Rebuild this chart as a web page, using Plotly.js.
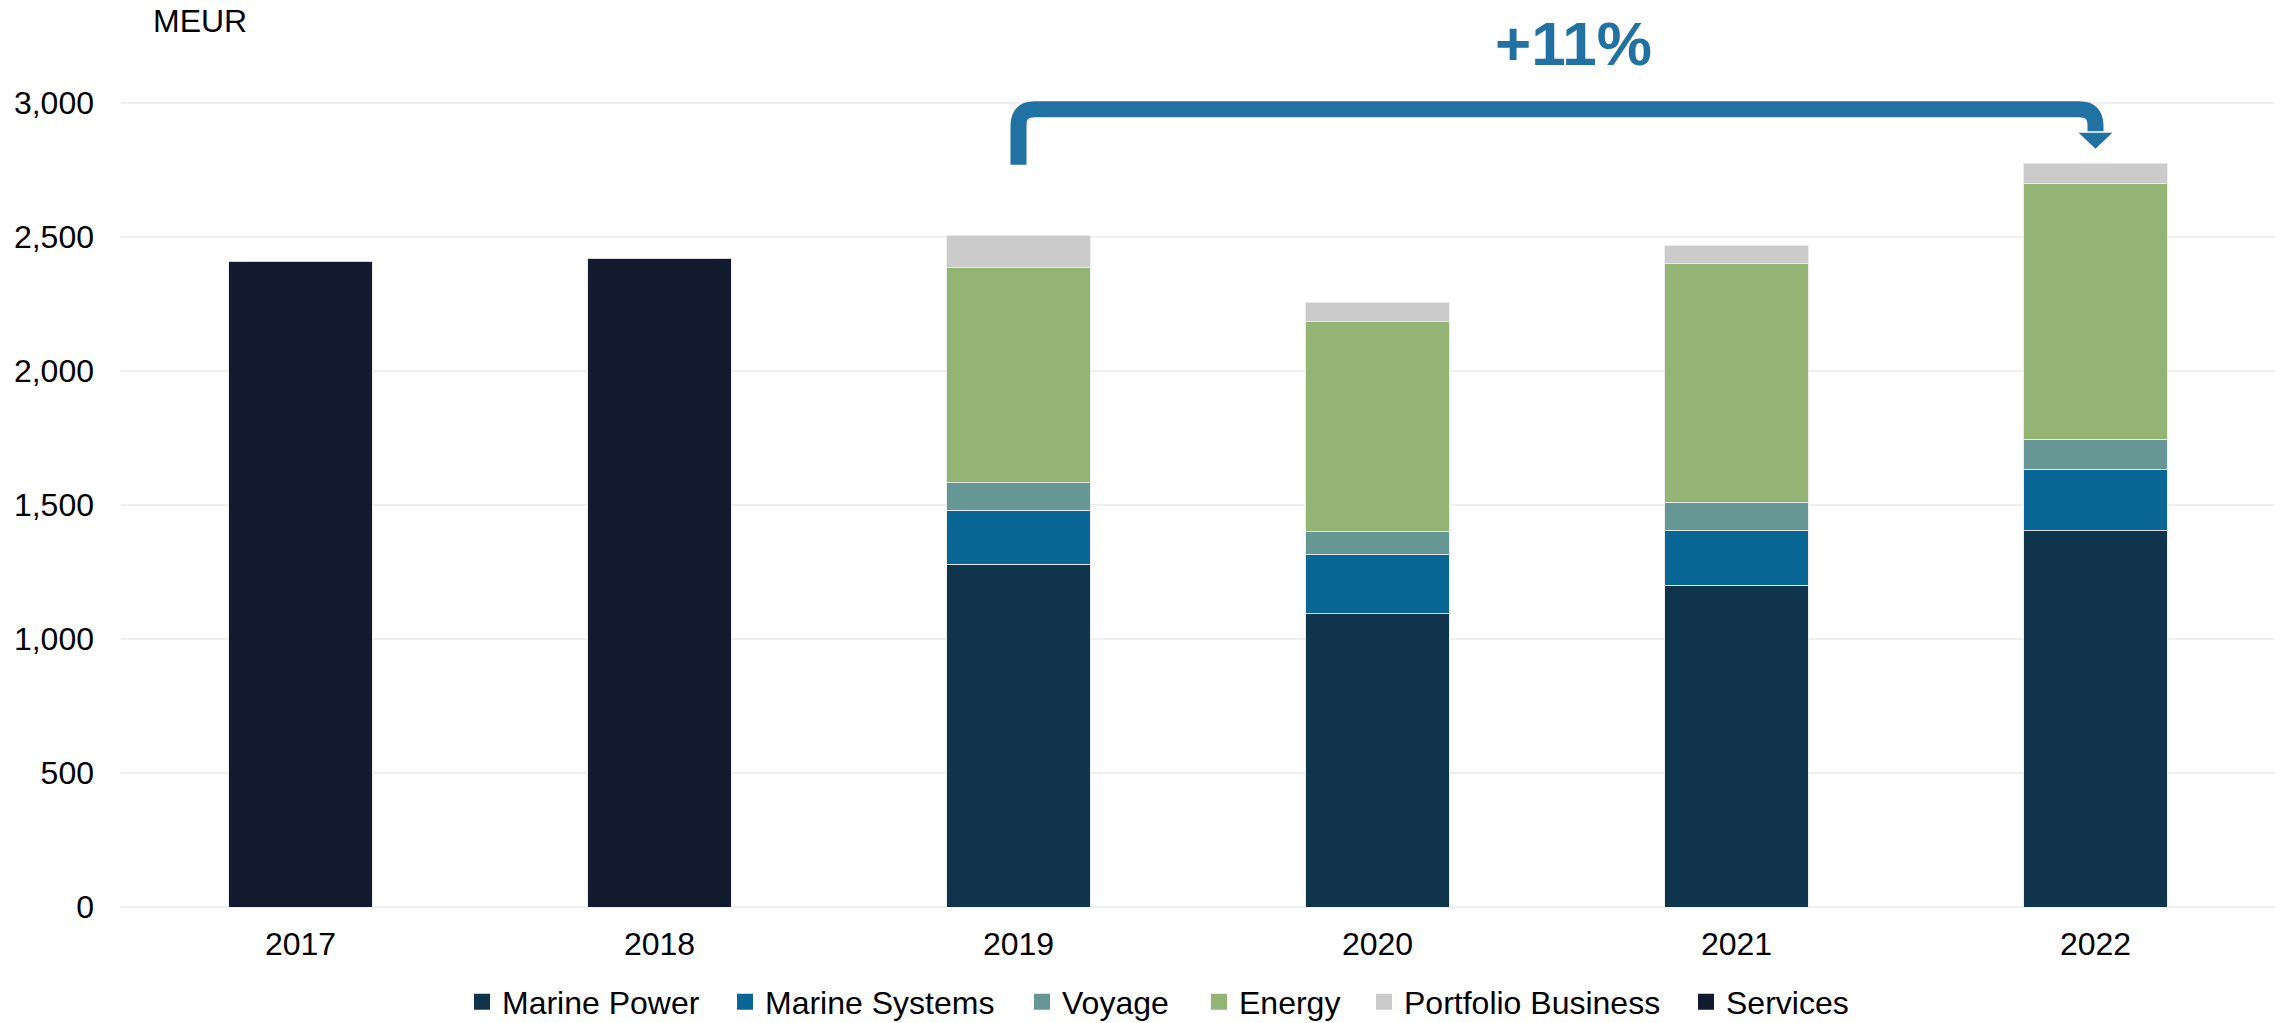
<!DOCTYPE html>
<html>
<head>
<meta charset="utf-8">
<script src="https://cdn.plot.ly/plotly-3.0.1.min.js"></script>
<style>html,body{margin:0;padding:0;background:#fff;}#chart{width:2281px;height:1023px;}</style>
</head>
<body>
<div id="chart"></div>
<script>
// ---- data ----
const years = ['2017', '2018', '2019', '2020', '2021', '2022'];
const marinePower     = [null, null, 1278, 1093, 1200, 1403];
const marineSystems   = [null, null, 202, 220, 203, 229];
const voyage          = [null, null, 103, 86, 106, 112];
const energy          = [null, null, 801, 783, 890, 956];
const portfolio       = [null, null, 122, 74, 67, 74];
const services        = [2408, 2419, null, null, null, null];
const seriesNames = ['Marine Power', 'Marine Systems', 'Voyage', 'Energy', 'Portfolio Business', 'Services'];
const growthLabel = '+11%';
const growthFrom = '2019';
const growthTo = '2022';

const colors = ['#10344c', '#0a6795', '#669795', '#93b474', '#cbcbcb', '#111a2e'];
const seriesValues = [marinePower, marineSystems, voyage, energy, portfolio, services];
const FONT = 'Arial, "Liberation Sans", sans-serif';

// legend swatch left edges (px) in the picture
const legendLeft = [474, 737, 1034, 1211, 1376, 1698];
const M = {l: 121, r: 6, t: 49, b: 116};
const W = 2281, H = 1023;
const plotW = W - M.l - M.r, plotH = H - M.t - M.b;

const traces = [];
seriesValues.forEach((vals, i) => {
  traces.push({
    type: 'bar', x: years, y: vals, name: seriesNames[i],
    marker: {color: colors[i], line: {color: 'rgba(235,235,235,0.9)', width: 1}},
    showlegend: false, hoverinfo: 'x+y+name'
  });
});
// legend entries with larger square swatches, one legend per entry
seriesNames.forEach((n, i) => {
  traces.push({
    type: 'scatter', mode: 'markers', x: [null], y: [null], name: n,
    legend: i === 0 ? 'legend' : 'legend' + (i + 1),
    marker: {symbol: 'square', size: 16, color: colors[i], line: {width: 0}},
    showlegend: true, hoverinfo: 'skip'
  });
});

// arrow geometry in data units
const i0 = years.indexOf(growthFrom), i1 = years.indexOf(growthTo);
const yLine = 2975, yStart = 2768, yHeadBase = 2888, yTip = 2828;
const rx = 0.045, ry = 60;
const hw = 0.047;
const arrowPath = `M ${i0},${yStart} L ${i0},${yLine - ry} Q ${i0},${yLine} ${i0 + rx},${yLine} ` +
  `L ${i1 - rx},${yLine} Q ${i1},${yLine} ${i1},${yLine - ry} L ${i1},${yHeadBase + 5}`;
const headPath = `M ${i1 - hw},${yHeadBase} L ${i1 + hw},${yHeadBase} L ${i1},${yTip} Z`;

const layout = {
  width: W, height: H,
  margin: Object.assign({autoexpand: false}, M),
  paper_bgcolor: '#ffffff', plot_bgcolor: '#ffffff',
  barmode: 'stack', bargap: 0.6,
  font: {family: FONT, color: '#000000', size: 32},
  xaxis: {
    type: 'category', categoryorder: 'array', categoryarray: years,
    showgrid: false, zeroline: false, showline: false, ticks: '',
    tickfont: {family: FONT, size: 32, color: '#000'},
    ticklabelstandoff: 15, fixedrange: true
  },
  yaxis: {
    range: [0, 3200], dtick: 500, tick0: 0,
    tickformat: ',d', showgrid: true, gridcolor: '#f0f0f0', gridwidth: 2,
    zeroline: true, zerolinecolor: '#f0f0f0', zerolinewidth: 2,
    showline: false, ticks: '',
    tickfont: {family: FONT, size: 32, color: '#000'},
    ticklabelstandoff: 26, fixedrange: true
  },
  shapes: [
    {type: 'path', xref: 'x', yref: 'y', path: arrowPath, line: {color: '#2271a3', width: 16}, fillcolor: 'rgba(0,0,0,0)', layer: 'above'},
    {type: 'path', xref: 'x', yref: 'y', path: headPath, line: {color: '#2271a3', width: 0}, fillcolor: '#2271a3', layer: 'above'}
  ],
  annotations: [
    {text: 'MEUR', xref: 'paper', yref: 'paper', x: (151 - M.l) / plotW, y: (H - M.b - 21) / plotH, xanchor: 'left', yanchor: 'middle',
     showarrow: false, font: {family: FONT, size: 32, color: '#000'}},
    {text: '<b>' + growthLabel + '</b>', xref: 'paper', yref: 'paper', x: (1573 - M.l) / plotW, y: (H - M.b - 44) / plotH,
     xanchor: 'center', yanchor: 'middle', showarrow: false,
     font: {family: FONT, size: 62, color: '#2271a3'}}
  ]
};

const legendOffset = 12; // px from legend box left to swatch left
legendLeft.forEach((px, i) => {
  const key = i === 0 ? 'legend' : 'legend' + (i + 1);
  layout[key] = {
    orientation: 'h', x: (px - legendOffset - M.l) / plotW, xanchor: 'left',
    y: -(1002 - (H - M.b)) / plotH, yanchor: 'middle',
    font: {family: FONT, size: 32, color: '#000'},
    itemwidth: 30, bgcolor: 'rgba(0,0,0,0)', borderwidth: 0
  };
});

Plotly.newPlot('chart', traces, layout, {displayModeBar: false, staticPlot: true});
</script>
</body>
</html>
